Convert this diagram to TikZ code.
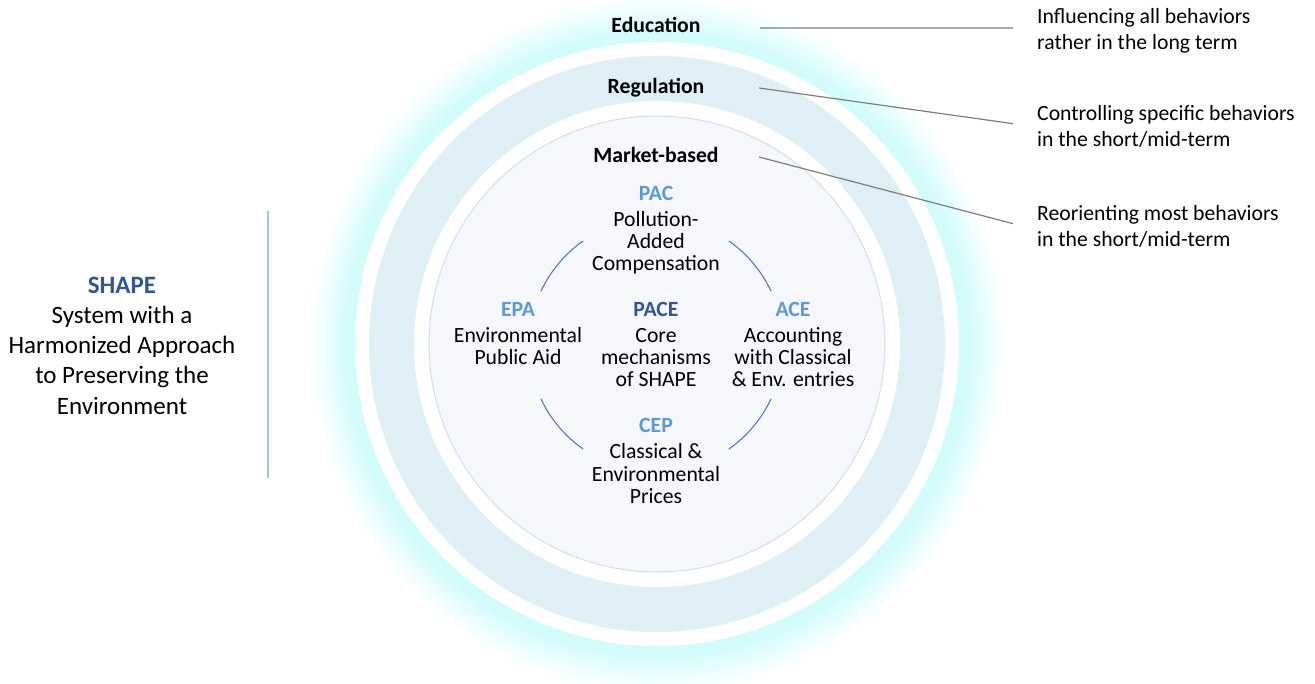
\documentclass[tikz,border=0pt]{standalone}
\usepackage{fontspec}
\setmainfont{Carlito}
\definecolor{glowc}{HTML}{D2FBFC}
\definecolor{regc}{HTML}{DEF0F6}
\definecolor{innerc}{HTML}{F5F7FB}
\definecolor{innerb}{HTML}{D3DDF2}
\definecolor{arcc}{HTML}{4472C4}
\definecolor{accent}{HTML}{5B9BD5}
\definecolor{dark}{HTML}{2F5597}
\definecolor{conn}{HTML}{7F7F7F}
\definecolor{vlinec}{HTML}{A6BFEB}
\pgfdeclareradialshading{glowshade}{\pgfpoint{0bp}{0bp}}{color(0bp)=(glowc); color(22.3bp)=(glowc); color(25bp)=(white); color(50bp)=(white)}
\newcommand{\hd}[1]{\textbf{\textcolor{accent}{#1}}}
\newcommand{\hdd}[1]{\textbf{\textcolor{dark}{#1}}}
\begin{document}
\begin{tikzpicture}[x=1pt,y=-1pt,
  title/.style={font=\fontsize{21.7}{22.4}\selectfont\bfseries, inner sep=0pt, anchor=base},
  block/.style={font=\fontsize{21.7}{22.4}\selectfont, align=center, inner sep=0pt, anchor=north},
  side/.style={font=\fontsize{21.7}{26}\selectfont, align=left, inner xsep=24pt, inner ysep=0pt, anchor=north west},
  lefttext/.style={font=\fontsize{25}{30.2}\selectfont, align=center, inner sep=0pt, anchor=north},
  connector/.style={draw=conn, line width=1.2pt},
  cyclearc/.style={draw=arcc, line width=1pt},
  sepline/.style={draw=vlinec, line width=1.5pt}]
\useasboundingbox (0,0) rectangle (1315,683);
\fill[white] (0,0) rectangle (1315,683);
\coordinate (C) at (657,344);
\coordinate (A) at (656,345);
% rings
\shade[shading=glowshade] (C) circle (348pt);
\fill[white] (C) circle (302pt);
\fill[regc] (C) circle (288pt);
\fill[white] (C) circle (243pt);
\filldraw[fill=innerc, draw=innerb, line width=1pt] (C) circle (228pt);
% cycle arcs
\draw[cyclearc] (A) ++(25:127pt) arc[start angle=25, end angle=55, radius=127pt];
\draw[cyclearc] (A) ++(125:127pt) arc[start angle=125, end angle=155, radius=127pt];
\draw[cyclearc] (A) ++(205:127pt) arc[start angle=205, end angle=235, radius=127pt];
\draw[cyclearc] (A) ++(305:127pt) arc[start angle=305, end angle=335, radius=127pt];
% ring titles
\node[title] (edu) at (656,32) {Education};
\node[title] (reg) at (656,93) {Regulation};
\node[title] (mkt) at (656,162) {Market-based};
% mechanisms
\node[block] (pac) at (656,180) {\rule{0pt}{20pt}\hd{PAC}\\[3.5pt]Pollution-\\Added\\Compensation};
\node[block] (epa) at (518,296) {\rule{0pt}{20pt}\hd{EPA}\\[3.5pt]Environmental\\Public Aid};
\node[block] (pace) at (656,296) {\rule{0pt}{20pt}\hdd{PACE}\\[3.5pt]Core\\mechanisms\\of SHAPE};
\node[block] (ace) at (793,296) {\rule{0pt}{20pt}\hd{ACE}\\[3.5pt]Accounting\\with Classical\\\& Env. entries};
\node[block] (cep) at (656,412.7) {\rule{0pt}{20pt}\hd{CEP}\\[3.5pt]Classical \&\\Environmental\\Prices};
% right descriptions
\node[side] (infl) at (1013,3) {\rule{0pt}{20pt}Influencing all behaviors\\rather in the long term};
\node[side] (ctrl) at (1013,100) {\rule{0pt}{20pt}Controlling specific behaviors\\in the short/mid-term};
\node[side] (reor) at (1013,200) {\rule{0pt}{20pt}Reorienting most behaviors\\in the short/mid-term};
% connectors
\coordinate (eduP) at (760,28);
\coordinate (regP) at (759,88);
\coordinate (mktP) at (759,157);
\draw[connector] (eduP) -- (infl.west);
\draw[connector] (regP) -- (ctrl.west);
\draw[connector] (mktP) -- (reor.west);
% left block
\node[lefttext] (shape) at (122,271) {\rule{0pt}{22pt}\hdd{SHAPE}\\System with a\\Harmonized Approach\\to Preserving the\\Environment};
\coordinate (sepT) at (268,211);
\coordinate (sepB) at (268,478);
\draw[sepline] (sepT) -- (sepB);
\end{tikzpicture}
\end{document}
